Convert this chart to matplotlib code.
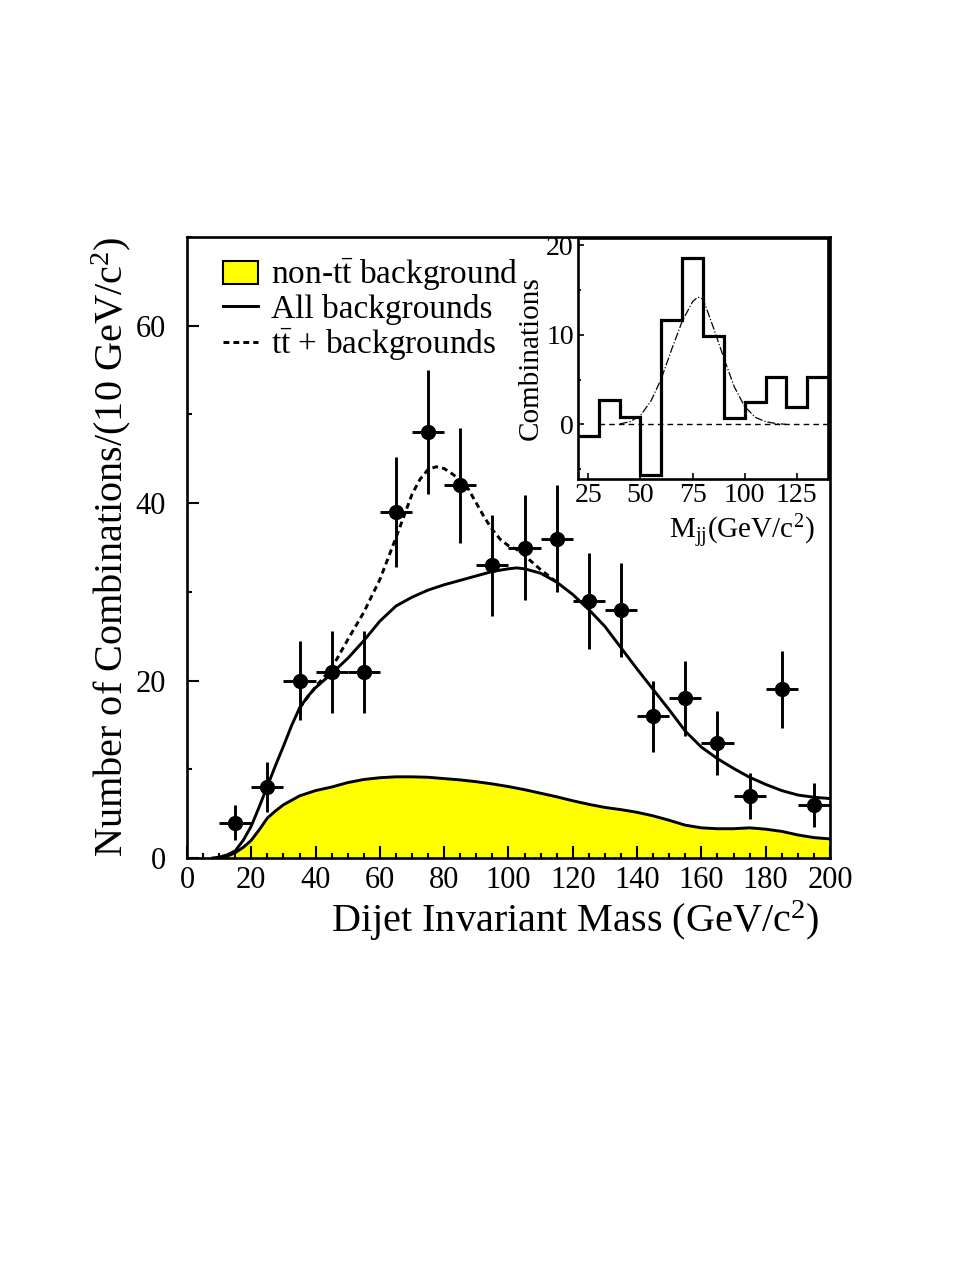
import matplotlib
matplotlib.use("Agg")
import matplotlib.pyplot as plt
from matplotlib.patches import Patch
from matplotlib.lines import Line2D
from matplotlib.ticker import MultipleLocator

plt.rcParams['font.family'] = ['Liberation Serif', 'DejaVu Serif']
plt.rcParams['mathtext.fontset'] = 'custom'
plt.rcParams['mathtext.rm'] = 'Liberation Serif'
plt.rcParams['mathtext.it'] = 'Liberation Serif:italic'

# data points (10 GeV bins)
bin_centers = [15, 25, 35, 45, 55, 65, 75, 85, 95, 105, 115, 125, 135, 145, 155, 165, 175, 185, 195]
counts = [4, 8, 20, 21, 21, 39, 48, 42, 33, 35, 36, 29, 28, 16, 18, 13, 7, 19, 6]
count_err = [2.0, 2.8, 4.5, 4.6, 4.6, 6.2, 7.0, 6.5, 5.7, 5.9, 6.0, 5.4, 5.3, 4.0, 4.25, 3.6, 2.6, 4.35, 2.45]
bin_half = [5] * len(bin_centers)

# non-ttbar background
nontt_x = [10, 12.5, 15, 17.5, 20, 22.5, 25, 27.5, 30, 35, 40, 45, 50, 55, 60, 65, 70, 75, 80, 85, 90,
           95, 100, 105, 110, 115, 120, 125, 130, 135, 140, 145, 150, 155, 160, 165, 170, 175, 180,
           185, 190, 195, 200]
nontt_y = [0, 0.2, 0.6, 1.2, 2.0, 3.2, 4.5, 5.3, 6.0, 7.0, 7.6, 8.0, 8.5, 8.85, 9.05, 9.15, 9.15, 9.1,
           8.95, 8.8, 8.6, 8.35, 8.05, 7.7, 7.3, 6.9, 6.45, 6.05, 5.7, 5.45, 5.15, 4.75, 4.25, 3.7,
           3.4, 3.3, 3.3, 3.4, 3.25, 3.0, 2.6, 2.3, 2.15]

# all backgrounds
allbg_x = [8, 10, 12.5, 15, 17.5, 20, 22.5, 25, 27.5, 30, 32.5, 35, 37.5, 40, 45, 50, 55, 60, 65, 70,
           75, 80, 85, 90, 95, 100, 102.5, 105, 110, 115, 120, 125, 130, 135, 140, 145, 150, 155,
           160, 165, 170, 175, 180, 185, 190, 195, 200]
allbg_y = [0, 0.1, 0.35, 0.8, 2.0, 3.6, 5.8, 8.1, 10.4, 12.6, 14.9, 16.9, 18.2, 19.2, 20.8, 22.5,
           24.5, 26.7, 28.4, 29.4, 30.2, 30.8, 31.3, 31.8, 32.3, 32.6, 32.7, 32.6, 32.1, 31.1, 29.7,
           28.0, 26.1, 23.7, 21.3, 19.0, 16.7, 14.3, 12.5, 11.2, 10.1, 9.1, 8.3, 7.6, 7.1, 6.85, 6.7]

# ttbar + backgrounds
ttbg_x = [35, 40, 45, 50, 55, 60, 65, 70, 72.5, 75, 77.5, 80, 82.5, 85, 87.5, 90, 92.5, 95, 97.5,
          100, 102.5, 105, 107.5, 110, 115]
ttbg_y = [16.9, 19.3, 21.4, 24.6, 27.7, 31.4, 36.1, 41.0, 42.7, 43.8, 44.1, 43.9, 43.3, 42.6, 41.6,
          40.0, 38.4, 37.0, 35.9, 35.2, 34.8, 34.1, 33.3, 32.5, 31.1]

# inset: background-subtracted histogram and fit
inset_edges = [20, 30, 40, 50, 60, 70, 80, 90, 100, 110, 120, 130, 140]
inset_vals = [-1.3, 2.7, 0.8, -5.6, 11.6, 18.6, 9.9, 0.7, 2.5, 5.3, 1.9, 5.3]
fit_x = [40, 45, 50, 55, 60, 65, 70, 75, 77.5, 80, 85, 90, 95, 100, 105, 110, 115, 120]
fit_y = [0.05, 0.3, 1.0, 2.6, 5.1, 8.4, 11.5, 13.7, 14.2, 14.0, 10.8, 7.4, 4.2, 2.0, 0.8, 0.3, 0.1, 0.0]

fig = plt.figure(figsize=(9.77, 12.64), dpi=100)
ax = fig.add_axes([0.1914, 0.3212, 0.6581, 0.4913])

ax.fill_between(nontt_x, nontt_y, 0, color='#ffff00', lw=0, zorder=1)
ax.plot(nontt_x, nontt_y, color='black', lw=2.1, zorder=2)
ax.plot(allbg_x, allbg_y, color='black', lw=2.1, zorder=3)
ax.plot(ttbg_x, ttbg_y, color='black', lw=2.1, ls=(0, (2.0, 1.4)), zorder=3)
ax.errorbar(bin_centers, counts, yerr=count_err, xerr=bin_half, fmt='o', color='black',
            ms=10, elinewidth=2.1, capsize=0, zorder=4)

ax.set_xlim(0, 200)
ax.set_ylim(0, 70)
ax.xaxis.set_major_locator(MultipleLocator(20))
ax.xaxis.set_minor_locator(MultipleLocator(5))
ax.yaxis.set_major_locator(MultipleLocator(20))
ax.yaxis.set_minor_locator(MultipleLocator(10))
ax.tick_params(which='both', direction='in', width=1.5, labelsize=22)
ax.tick_params(which='major', length=8.5)
ax.tick_params(which='minor', length=3.8)
ax.tick_params(axis='x', pad=6)
ax.tick_params(axis='y', pad=15)
for s in ax.spines.values():
    s.set_linewidth(1.9)

ax.set_xlabel('Dijet Invariant Mass (GeV/c$^2$)', fontsize=29)
ax.xaxis.label.set_horizontalalignment('right')
ax.xaxis.set_label_coords(0.984, -0.066)
ax.set_ylabel('Number of Combinations/(10 GeV/c$^2$)', fontsize=29, loc='top', labelpad=2)

handles = [Patch(facecolor='#ffff00', edgecolor='black', lw=1.5),
           Line2D([], [], color='black', lw=2.1),
           Line2D([], [], color='black', lw=2.1, ls=(0, (2.0, 1.4)))]
labels = [r'non-$\mathrm{t}\bar{\mathrm{t}}$ background', 'All backgrounds',
          r'$\mathrm{t}\bar{\mathrm{t}}$ + backgrounds']
ax.legend(handles, labels, loc='upper left', bbox_to_anchor=(0.035, 0.99), frameon=False,
          fontsize=24, handlelength=1.05, handletextpad=0.4, labelspacing=0.03, borderaxespad=0)

# inset
ins = fig.add_axes([0.5916, 0.6210, 0.2559, 0.1907])
ins.set_facecolor('white')
ins.hlines(0, 30, 140, colors='black', lw=1.0, linestyles=(0, (4, 3)))
ins.plot(fit_x, fit_y, color='black', lw=0.9, ls='-.')
ins.stairs(inset_vals, inset_edges, baseline=None, color='black', lw=2.3)
ins.set_xlim(20, 140)
ins.set_ylim(-6.1, 20.8)
ins.xaxis.set_major_locator(MultipleLocator(25))
ins.yaxis.set_major_locator(MultipleLocator(10))
ins.yaxis.set_minor_locator(MultipleLocator(5))
ins.tick_params(which='both', direction='in', width=1.2, labelsize=20, pad=3)
ins.tick_params(which='major', length=4)
ins.tick_params(which='minor', length=2.5)
for s in ins.spines.values():
    s.set_linewidth(1.9)
ins.set_xlabel('M$_{\\mathrm{jj}}$(GeV/c$^2$)', fontsize=21, labelpad=0)
ins.xaxis.label.set_horizontalalignment('right')
ins.xaxis.set_label_coords(0.948, -0.14)
ins.set_ylabel('Combinations', fontsize=21, labelpad=2)

fig.savefig('out.png', dpi=100)
plt.close('all')
